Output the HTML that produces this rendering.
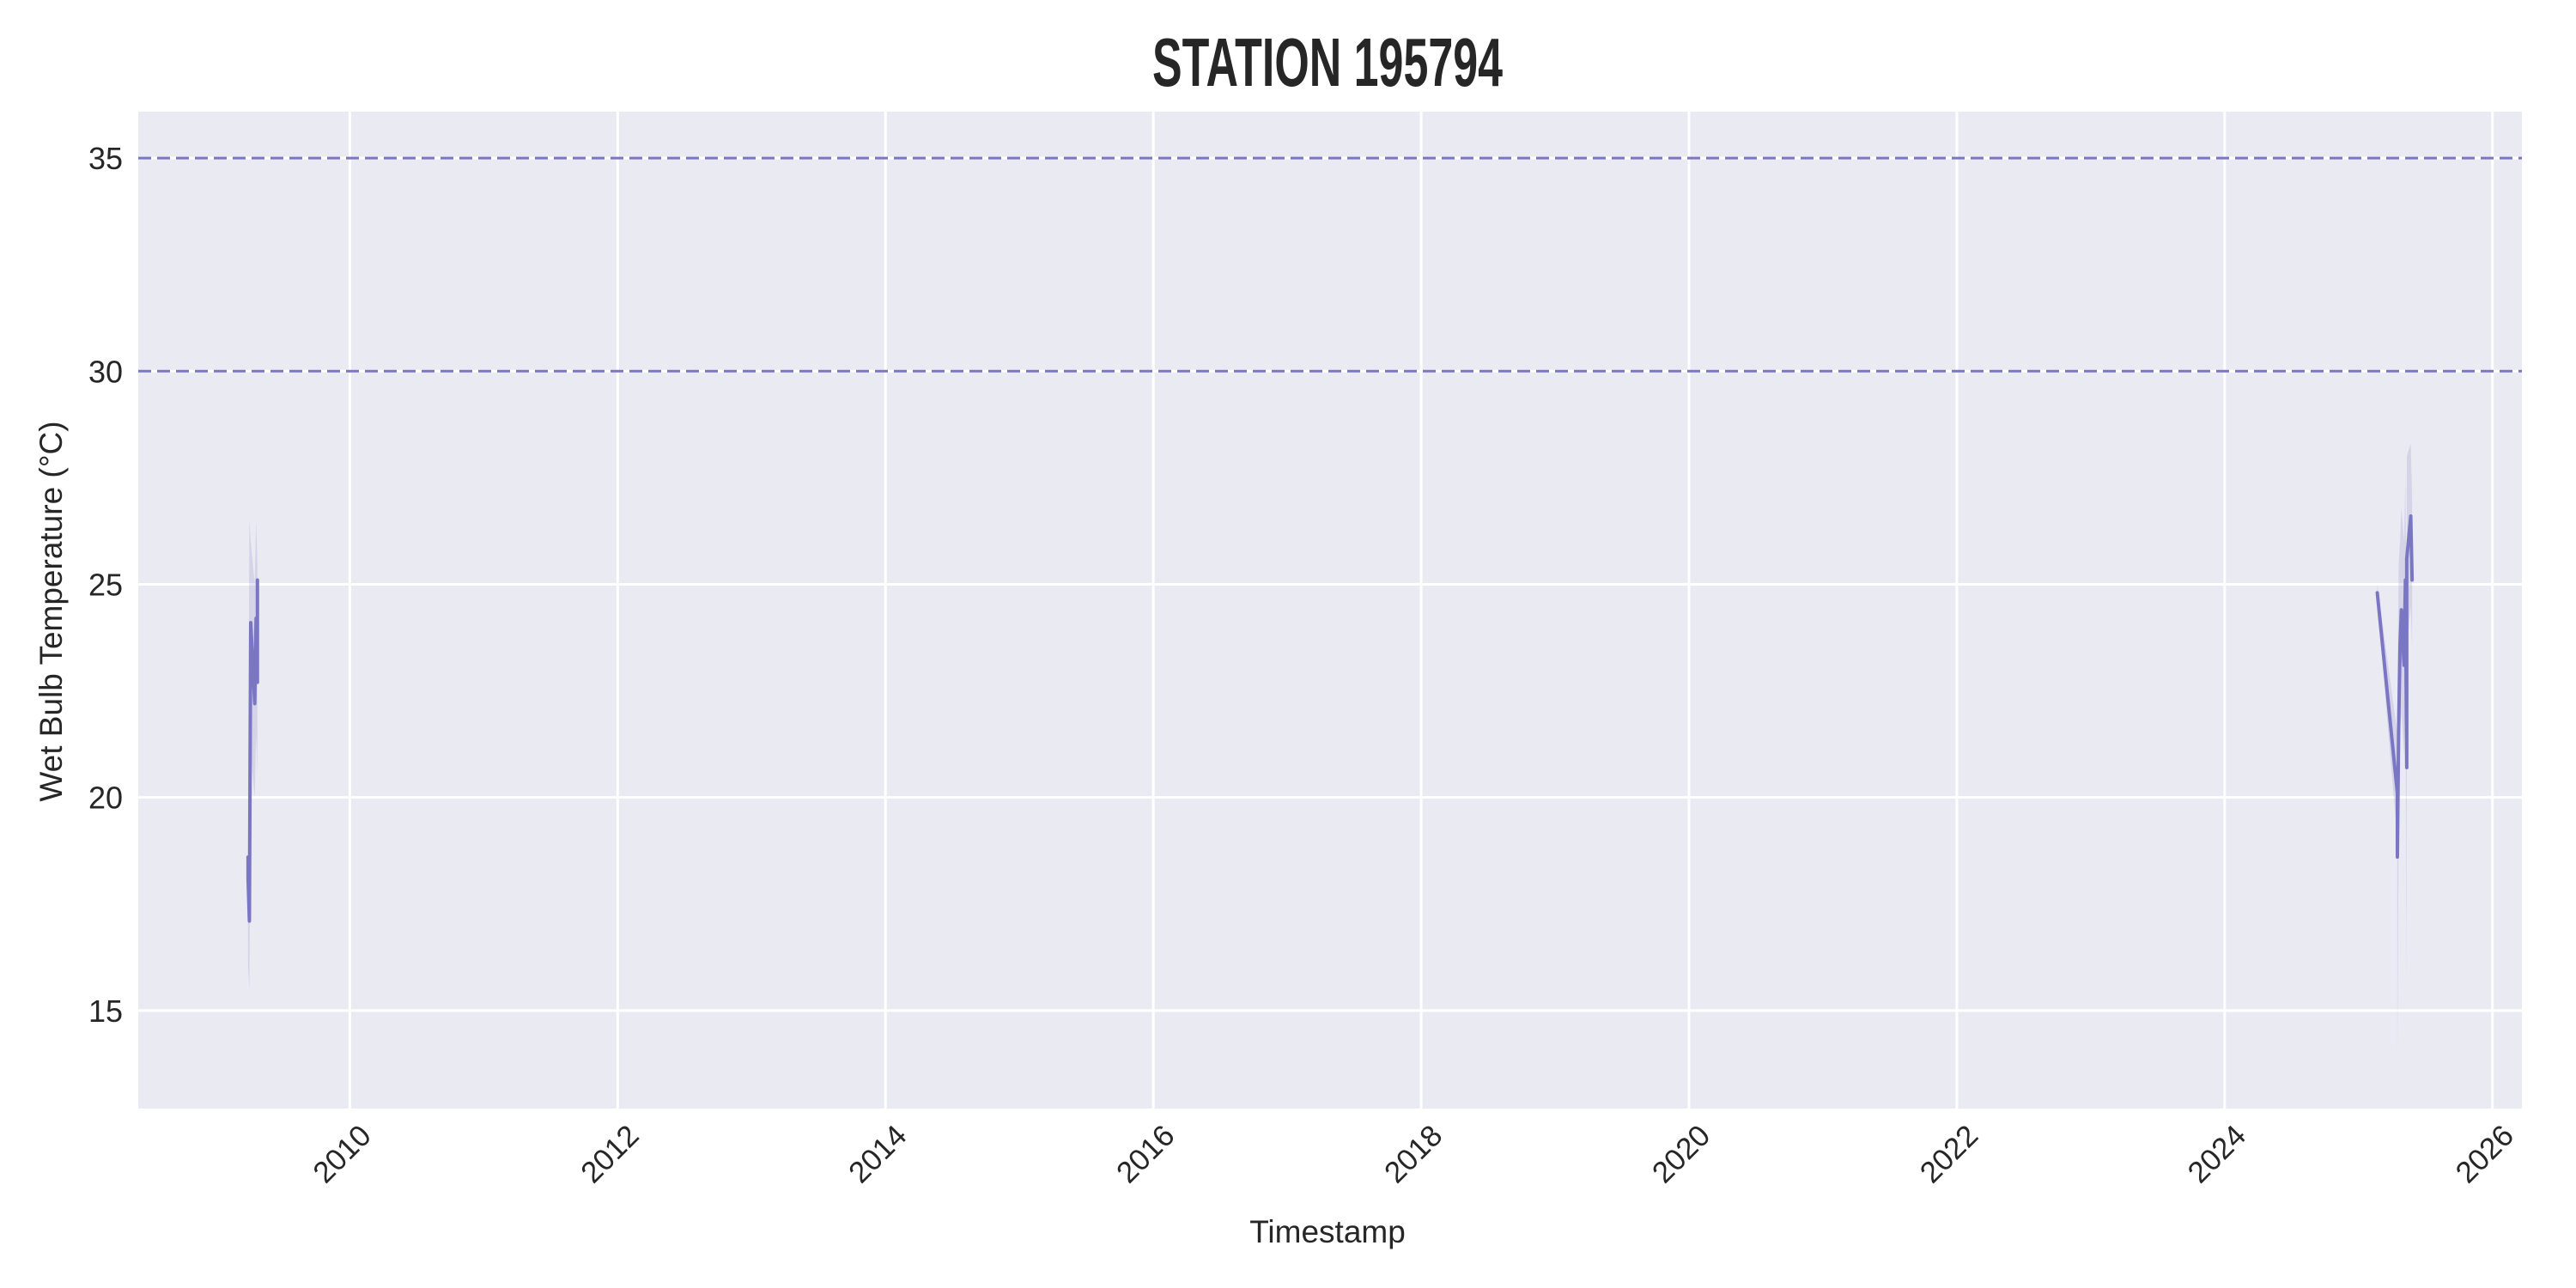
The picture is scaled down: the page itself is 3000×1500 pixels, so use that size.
<!DOCTYPE html>
<html><head><meta charset="utf-8"><style>
html,body{margin:0;padding:0;background:#fff;}
svg{display:block;font-family:"Liberation Sans","DejaVu Sans",sans-serif;}
</style></head><body>
<svg id="chart" width="3000" height="1500" viewBox="0 0 3000 1500" xmlns="http://www.w3.org/2000/svg">
<rect width="3000" height="1500" fill="#ffffff"/>
<text x="1546" y="100" text-anchor="middle" font-size="80" font-weight="bold" fill="#262626" textLength="408" lengthAdjust="spacingAndGlyphs">STATION 195794</text>
<rect x="161" y="130" width="2776" height="1161" fill="#eaeaf2"/>
<g id="grid"></g>
<g id="bands"></g>
<g id="lines"></g>
<g id="ticks"></g>
<text x="1546" y="1447" text-anchor="middle" font-size="37" fill="#262626">Timestamp</text>
<text transform="translate(72,712) rotate(-90)" text-anchor="middle" font-size="37" fill="#262626">Wet Bulb Temperature (°C)</text>
</svg>
<script>
const xTicks = [2010, 2012, 2014, 2016, 2018, 2020, 2022, 2024, 2026];
const yTicks = [15, 20, 25, 30, 35];
const thresholds = [30, 35];
const seg1Years = [2009.24, 2009.24, 2009.25, 2009.26, 2009.29, 2009.30, 2009.31, 2009.31];
const seg1Values = [18.6, 18.1, 17.1, 24.1, 22.2, 24.2, 22.7, 25.1];
const seg1Lo = [16.5, 16.0, 15.5, 21.0, 20.0, 21.5, 20.5, 23.0];
const seg1Hi = [20.5, 20.0, 26.5, 26.0, 25.0, 26.5, 25.5, 26.2];
const seg2Years = [2025.14, 2025.29, 2025.29, 2025.30, 2025.31, 2025.32, 2025.34, 2025.35, 2025.36, 2025.36, 2025.39, 2025.40];
const seg2Values = [24.8, 20.1, 18.6, 21.7, 23.6, 24.4, 23.1, 25.1, 20.7, 25.6, 26.6, 25.1];
const seg2Lo = [24.6, 19.0, 14.0, 19.5, 21.5, 22.0, 21.0, 23.0, 15.5, 23.5, 24.5, 23.5];
const seg2Hi = [25.0, 21.5, 22.0, 25.5, 26.0, 26.8, 26.0, 27.5, 24.0, 28.0, 28.3, 27.0];

const X0 = 161, X1 = 2937, Y0 = 130, Y1 = 1291;
const xMin = 2008.42, xMax = 2026.22, yMin = 12.70, yMax = 36.09;
const xs = v => X0 + (v - xMin) / (xMax - xMin) * (X1 - X0);
const ys = v => Y1 - (v - yMin) / (yMax - yMin) * (Y1 - Y0);
const NS = "http://www.w3.org/2000/svg";
function mk(tag, parent, attrs) {
  const e = document.createElementNS(NS, tag);
  for (const k in attrs) e.setAttribute(k, attrs[k]);
  document.getElementById(parent).appendChild(e);
  return e;
}
xTicks.forEach(t => {
  const g = mk('line', 'grid', {x1: xs(t), x2: xs(t), y1: Y0, y2: Y1, stroke: '#fff', 'stroke-width': 3});
  
  
  const x = xs(t) + 14, y = 1330;
  const l = mk('text', 'ticks', {x: x, y: y, 'text-anchor': 'end', 'font-size': 35, fill: '#262626', transform: `rotate(-45 ${x} ${y - 18})`});
  l.textContent = t;
  
  
});
yTicks.forEach(t => {
  const g = mk('line', 'grid', {x1: X0, x2: X1, y1: ys(t), y2: ys(t), stroke: '#fff', 'stroke-width': 3});
  
  
  const l = mk('text', 'ticks', {x: 143, y: ys(t) + 13, 'text-anchor': 'end', 'font-size': 36, fill: '#262626'});
  l.textContent = t;
  
  
});
thresholds.forEach(t => {
  const h = mk('line', 'lines', {x1: X0, x2: X1, y1: ys(t), y2: ys(t), stroke: '#7b76c4', 'stroke-width': 3, 'stroke-dasharray': '15 7'});
  
  
});
function drawSeg(years, vals, lo, hi, name) {
  let d = years.map((y, i) => `${i ? 'L' : 'M'}${xs(y)},${ys(hi[i])}`).join(' ');
  for (let i = years.length - 1; i >= 0; i--) d += ` L${xs(years[i])},${ys(lo[i])}`;
  const b = mk('path', 'bands', {d: d + ' Z', fill: '#7b76c4', 'fill-opacity': 0.2, stroke: 'none'});
  
  
  const p = mk('path', 'lines', {d: years.map((y, i) => `${i ? 'L' : 'M'}${xs(y)},${ys(vals[i])}`).join(' '), fill: 'none', stroke: '#7b76c4', 'stroke-width': 4, 'stroke-linejoin': 'round', 'stroke-linecap': 'round'});
  
  
}
drawSeg(seg1Years, seg1Values, seg1Lo, seg1Hi, 'wet-bulb-2009');
drawSeg(seg2Years, seg2Values, seg2Lo, seg2Hi, 'wet-bulb-2025');
</script>
</body></html>
